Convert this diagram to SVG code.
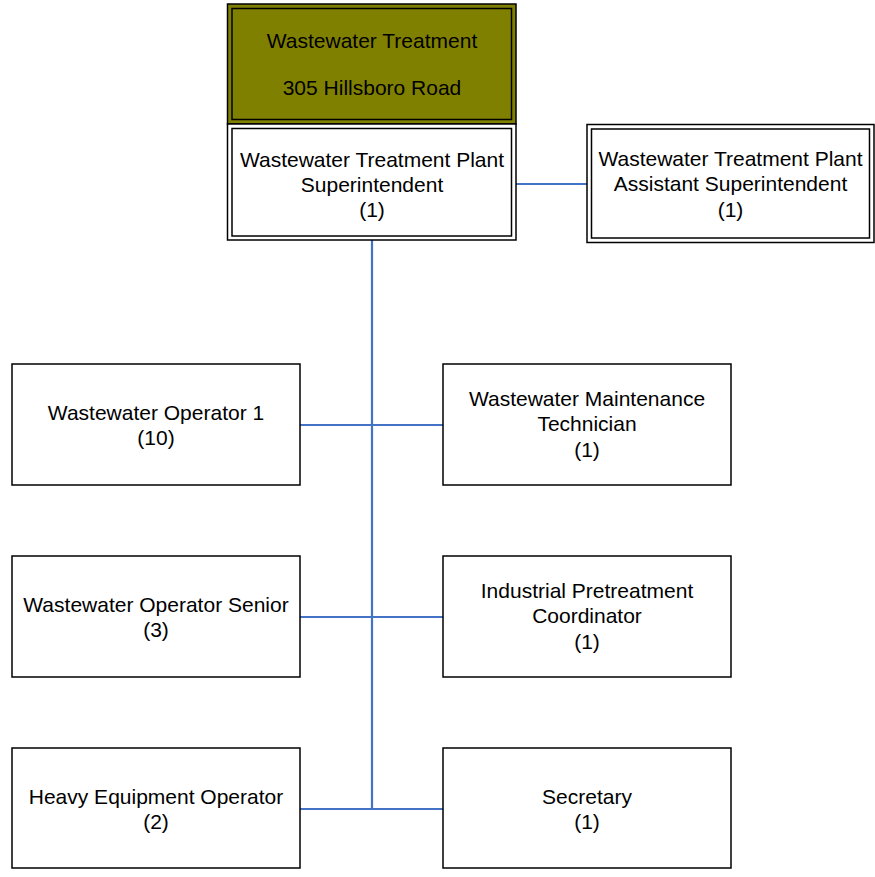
<svg xmlns="http://www.w3.org/2000/svg" width="875" height="877" viewBox="0 0 875 877">
<style>
.box{fill:#fff;stroke:#000;stroke-width:1.5}
.dbl{fill:none;stroke:#000;stroke-width:1.5}
.olive{fill:#808000;stroke:#000;stroke-width:1.5}
text{font-family:"Liberation Sans",Arial,sans-serif;font-size:21px;fill:#000;text-anchor:middle}
.conn line{stroke:#4472c4;stroke-width:2.2}
</style>
<rect width="875" height="877" fill="#fff"/>
<g class="conn">
<line x1="372" y1="240" x2="372" y2="809"/>
<line x1="516" y1="184" x2="587" y2="184"/>
<line x1="300" y1="425" x2="443" y2="425"/>
<line x1="300" y1="617" x2="443" y2="617"/>
<line x1="300" y1="809" x2="443" y2="809"/>
</g>
<g id="loc">
<rect class="olive" x="227.5" y="4" width="288.5" height="120"/>
<rect class="dbl" x="232" y="8.5" width="279.5" height="111"/>
<text x="372" y="48">Wastewater Treatment</text>
<text x="372" y="95">305 Hillsboro Road</text>
</g>
<g id="super">
<rect class="box" x="227.5" y="124" width="288.5" height="116"/>
<rect class="dbl" x="232" y="128.5" width="279.5" height="107.5"/>
<text x="372" y="166.5">Wastewater Treatment Plant</text>
<text x="372" y="191.5">Superintendent</text>
<text x="372" y="216.5">(1)</text>
</g>
<g id="asst">
<rect class="box" x="587" y="124.5" width="287" height="118"/>
<rect class="dbl" x="591.5" y="129" width="278" height="109"/>
<text x="730.5" y="165.5">Wastewater Treatment Plant</text>
<text x="730.5" y="191">Assistant Superintendent</text>
<text x="730.5" y="217">(1)</text>
</g>
<g id="op1">
<rect class="box" x="12" y="364" width="288" height="121"/>
<text x="156" y="419.5">Wastewater Operator 1</text>
<text x="156" y="444.5">(10)</text>
</g>
<g id="maint">
<rect class="box" x="443" y="364" width="288" height="121"/>
<text x="587" y="405.5">Wastewater Maintenance</text>
<text x="587" y="431">Technician</text>
<text x="587" y="456.5">(1)</text>
</g>
<g id="opsenior">
<rect class="box" x="12" y="556" width="288" height="121"/>
<text x="156" y="611.5">Wastewater Operator Senior</text>
<text x="156" y="636.5">(3)</text>
</g>
<g id="pretreat">
<rect class="box" x="443" y="556" width="288" height="121"/>
<text x="587" y="597.5">Industrial Pretreatment</text>
<text x="587" y="623">Coordinator</text>
<text x="587" y="648.5">(1)</text>
</g>
<g id="heavy">
<rect class="box" x="12" y="748" width="288" height="120"/>
<text x="156" y="803.5">Heavy Equipment Operator</text>
<text x="156" y="828.5">(2)</text>
</g>
<g id="secretary">
<rect class="box" x="443" y="748" width="288" height="120"/>
<text x="587" y="803.5">Secretary</text>
<text x="587" y="828.5">(1)</text>
</g>
</svg>
